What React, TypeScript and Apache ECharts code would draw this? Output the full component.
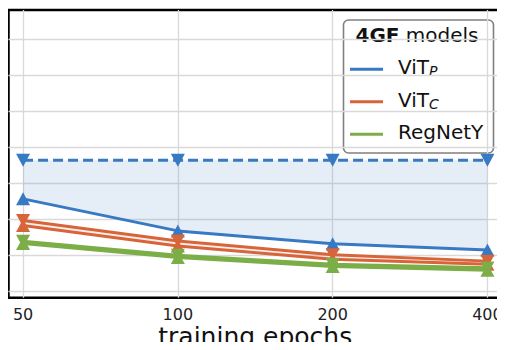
import React, { useEffect, useRef } from "react";
import * as echarts from "echarts";

// Training epochs (equally spaced doublings) and their positions on the x axis
const epochs = [50, 100, 200, 400];
const xPos = [0, 1, 2, 3];

// Error curves per 4GF model; "hi" = down-triangle variant, "lo" = up-triangle variant
const vitPHi = [3.63, 3.63, 3.63, 3.63];
const vitPLo = [2.56, 1.67, 1.31, 1.14];
const vitCHi = [1.96, 1.39, 1.01, 0.83];
const vitCLo = [1.82, 1.25, 0.88, 0.74];
const regHi = [1.38, 0.99, 0.74, 0.64];
const regLo = [1.32, 0.93, 0.68, 0.58];

// Horizontal grid positions (y values) and legend names
const yGrid = [0, 1, 2, 3, 4, 5, 6, 7];
const legendTitle = ["4GF", "models"];
const modelNames = ["ViT", "ViT", "RegNetY"];
const modelSubs = ["P", "C", ""];

const BLUE = "#3779c3";
const ORANGE = "#d8653a";
const GREEN = "#7cae47";
const FONT = "DejaVu Sans";

const pairs = (ys: number[]) => xPos.map((x, i) => [x, ys[i]]);

function band(name: string, hi: number[], lo: number[], color: string, opacity: number) {
  return {
    name,
    type: "custom",
    z: 1,
    silent: true,
    data: [[xPos[0], hi[0]]],
    encode: { x: 0, y: 1 },
    renderItem: (_params: any, api: any) => {
      const top = xPos.map((x, i) => api.coord([x, hi[i]]));
      const bottom = xPos.map((x, i) => api.coord([x, lo[i]])).reverse();
      return {
        type: "polygon",
        shape: { points: top.concat(bottom) },
        style: { fill: color, opacity },
      };
    },
  };
}

function curve(name: string, ys: number[], color: string, down: boolean, dashed: boolean, width: number, z: number) {
  return {
    name,
    type: "line",
    z,
    data: pairs(ys),
    symbol: "triangle",
    symbolSize: [14, 13],
    symbolRotate: down ? 180 : 0,
    showAllSymbol: true,
    itemStyle: { color, borderWidth: 0 },
    lineStyle: { color, width, type: dashed ? [10, 5] : "solid", cap: "butt" },
    emphasis: { disabled: true },
  };
}

export default function App() {
  const ref = useRef<HTMLDivElement>(null);

  useEffect(() => {
    if (!ref.current) return;
    const chart = echarts.init(ref.current, null, { renderer: "svg" });

    const legendRows = [69.3, 101.7, 134.3];
    const legendColors = [BLUE, ORANGE, GREEN];
    const legendItems: any[] = [];
    modelNames.forEach((nm, i) => {
      legendItems.push({
        type: "line",
        shape: { x1: 350, y1: legendRows[i], x2: 383, y2: legendRows[i] },
        style: { stroke: legendColors[i], lineWidth: 3 },
      });
      legendItems.push({
        type: "text",
        x: 398,
        y: legendRows[i] - 2,
        style: {
          text: modelSubs[i] ? `{a|${nm}}{b|${modelSubs[i]}}` : `{a|${nm}}`,
          verticalAlign: "middle",
          align: "left",
          rich: {
            a: { fontFamily: FONT, fontSize: 20, lineHeight: 22, fill: "#111" },
            b: {
              fontFamily: FONT,
              fontSize: 14,
              fontStyle: "italic",
              lineHeight: 10,
              verticalAlign: "bottom",
              fill: "#111",
            },
          },
        },
      });
    });

    chart.setOption({
      animation: false,
      grid: {
        left: 8.5,
        right: 3,
        top: 10,
        bottom: 52.3,
        show: true,
        borderColor: "#000",
        borderWidth: 2.5,
        backgroundColor: "#fff",
        outerBoundsMode: "none",
      },
      xAxis: {
        type: "value",
        min: -0.094,
        max: 3.094,
        name: "training epochs",
        nameLocation: "middle",
        nameGap: 26.5,
        nameMoveOverlap: false,
        nameTextStyle: { fontFamily: FONT, fontSize: 25, lineHeight: 25, color: "#111" },
        axisLine: { show: false },
        axisTick: { show: false, customValues: xPos },
        axisLabel: {
          customValues: xPos,
          formatter: (v: number) => String(epochs[Math.round(v)]),
          fontFamily: FONT,
          fontSize: 16,
          lineHeight: 14,
          color: "#222",
          margin: 10,
        },
        splitLine: { show: true, lineStyle: { color: "#d9d9d9", width: 1.3 } },
      },
      yAxis: {
        type: "value",
        min: -0.186,
        max: 7.806,
        axisLine: { show: false },
        axisTick: { show: false, customValues: yGrid },
        axisLabel: { show: false, customValues: yGrid },
        splitLine: { show: true, lineStyle: { color: "#d9d9d9", width: 1.3 } },
      },
      series: [
        band("ViT_P band", vitPHi, vitPLo, BLUE, 0.13),
        band("ViT_C band", vitCHi, vitCLo, ORANGE, 0.1),
        band("RegNetY band", regHi, regLo, GREEN, 0.1),
        curve("ViT_P hi", vitPHi, BLUE, true, true, 3, 3),
        curve("ViT_P", vitPLo, BLUE, false, false, 3, 3),
        curve("ViT_C hi", vitCHi, ORANGE, true, false, 3, 4),
        curve("ViT_C", vitCLo, ORANGE, false, false, 3, 4),
        curve("RegNetY hi", regHi, GREEN, true, false, 3.2, 5),
        curve("RegNetY", regLo, GREEN, false, false, 3.2, 5),
      ],
      graphic: [
        {
          type: "group",
          z: 100,
          children: [
            {
              type: "rect",
              shape: { x: 343.5, y: 20, width: 150, height: 133, r: 5 },
              style: { fill: "rgba(255,255,255,0.88)", stroke: "#808080", lineWidth: 1.6 },
            },
            {
              type: "text",
              x: 417,
              y: 35,
              style: {
                text: `{b|${legendTitle[0]}}{n| ${legendTitle[1]}}`,
                align: "center",
                verticalAlign: "middle",
                rich: {
                  b: { fontFamily: FONT, fontSize: 20, fontWeight: "bold", fill: "#111" },
                  n: { fontFamily: FONT, fontSize: 20, fill: "#111" },
                },
              },
            },
            ...legendItems,
          ],
        },
      ],
    });

    return () => chart.dispose();
  }, []);

  return <div ref={ref} style={{ width: 505, height: 350, margin: -8 }} />;
}
